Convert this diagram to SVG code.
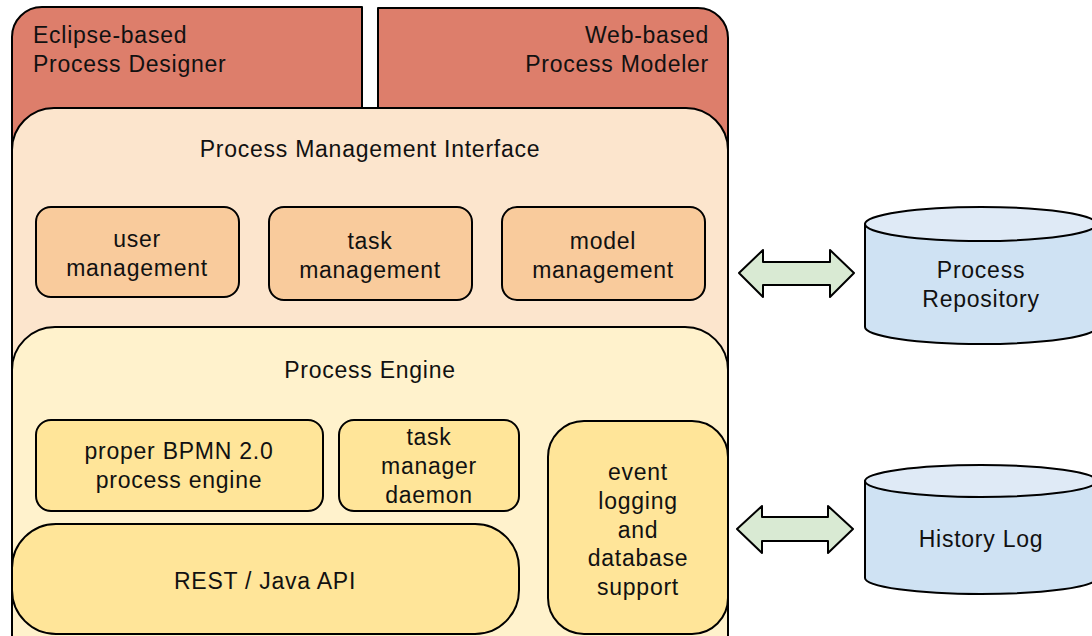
<svg xmlns="http://www.w3.org/2000/svg" width="1092" height="636" viewBox="0 0 1092 636">
  <style>
    .ln { stroke: #000; stroke-width: 2; stroke-linejoin: round; }
    .t { font-family: "Liberation Sans", Arial, sans-serif; font-size: 23px; letter-spacing: 0.75px; fill: #111; }
    .c { text-anchor: middle; }
    .tool { fill: #dd7e6b; }
    .pmi { fill: #fce5cd; }
    .mgmt { fill: #f9cb9c; }
    .eng { fill: #fff2cc; }
    .part { fill: #ffe599; }
    .store { fill: #cfe2f3; }
    .storetop { fill: #dfeaf6; }
    .link { fill: #d9ead3; }
  </style>
  <rect width="1092" height="636" fill="#fff"/>

  <!-- modelling tools -->
  <g id="eclipse-designer">
    <path class="ln tool" d="M12,650 V37 A30,30 0 0 1 42,7 H362 V650 Z"/>
    <text class="t" x="33" y="43">Eclipse-based</text>
    <text class="t" x="33" y="72">Process Designer</text>
  </g>
  <g id="web-modeler">
    <path class="ln tool" d="M378,650 V8 H698 A30,30 0 0 1 728,38 V650 Z"/>
    <text class="t" x="709" y="43" text-anchor="end">Web-based</text>
    <text class="t" x="709" y="72" text-anchor="end">Process Modeler</text>
  </g>

  <!-- management interface layer -->
  <g id="process-management-interface">
    <path class="ln pmi" d="M12,650 V150 A42,42 0 0 1 54,108 H686 A42,42 0 0 1 728,150 V650 Z"/>
    <text class="t c" x="370" y="157">Process Management Interface</text>
  </g>
  <g id="user-management">
    <rect class="ln mgmt" x="36" y="207" width="203" height="90" rx="15"/>
    <text class="t c" x="137" y="247">user</text>
    <text class="t c" x="137" y="276">management</text>
  </g>
  <g id="task-management">
    <rect class="ln mgmt" x="269" y="207" width="203" height="93" rx="15"/>
    <text class="t c" x="370" y="249">task</text>
    <text class="t c" x="370" y="278">management</text>
  </g>
  <g id="model-management">
    <rect class="ln mgmt" x="502" y="207" width="203" height="93" rx="15"/>
    <text class="t c" x="603" y="249">model</text>
    <text class="t c" x="603" y="278">management</text>
  </g>

  <!-- engine layer -->
  <g id="process-engine">
    <path class="ln eng" d="M12,650 V370 A43,43 0 0 1 55,327 H685 A43,43 0 0 1 728,370 V650 Z"/>
    <text class="t c" x="370" y="378">Process Engine</text>
  </g>
  <g id="bpmn-engine">
    <rect class="ln part" x="36" y="420" width="287" height="91" rx="15"/>
    <text class="t c" x="179" y="459">proper BPMN 2.0</text>
    <text class="t c" x="179" y="488">process engine</text>
  </g>
  <g id="task-manager-daemon">
    <rect class="ln part" x="339" y="420" width="180" height="91" rx="15"/>
    <text class="t c" x="429" y="445">task</text>
    <text class="t c" x="429" y="474">manager</text>
    <text class="t c" x="429" y="503">daemon</text>
  </g>
  <g id="event-logging">
    <rect class="ln part" x="548" y="421" width="180" height="213" rx="36"/>
    <text class="t c" x="638" y="480">event</text>
    <text class="t c" x="638" y="509">logging</text>
    <text class="t c" x="638" y="538">and</text>
    <text class="t c" x="638" y="566">database</text>
    <text class="t c" x="638" y="595">support</text>
  </g>
  <g id="rest-api">
    <rect class="ln part" x="12" y="524" width="507" height="110" rx="44"/>
    <text class="t c" x="265" y="589">REST / Java API</text>
  </g>

  <!-- storage -->
  <g id="process-repository">
    <path class="ln store" d="M865,224 V327 A116,17 0 0 0 1097,327 V224 Z"/>
    <ellipse class="ln storetop" cx="981" cy="224" rx="116" ry="17"/>
    <text class="t c" x="981" y="278">Process</text>
    <text class="t c" x="981" y="307">Repository</text>
  </g>
  <g id="history-log">
    <path class="ln store" d="M865,481 V578 A116,16 0 0 0 1097,578 V481 Z"/>
    <ellipse class="ln storetop" cx="981" cy="481" rx="116" ry="16"/>
    <text class="t c" x="981" y="547">History Log</text>
  </g>

  <!-- connectors -->
  <g id="connectors">
    <polygon class="ln link" points="739,273 763,250 763,262 830,262 830,250 854,273 830,297 830,285 763,285 763,297"/>
    <polygon class="ln link" points="737,529 762,506 762,517 828,517 828,506 853,529 828,553 828,541 762,541 762,553"/>
  </g>
</svg>
